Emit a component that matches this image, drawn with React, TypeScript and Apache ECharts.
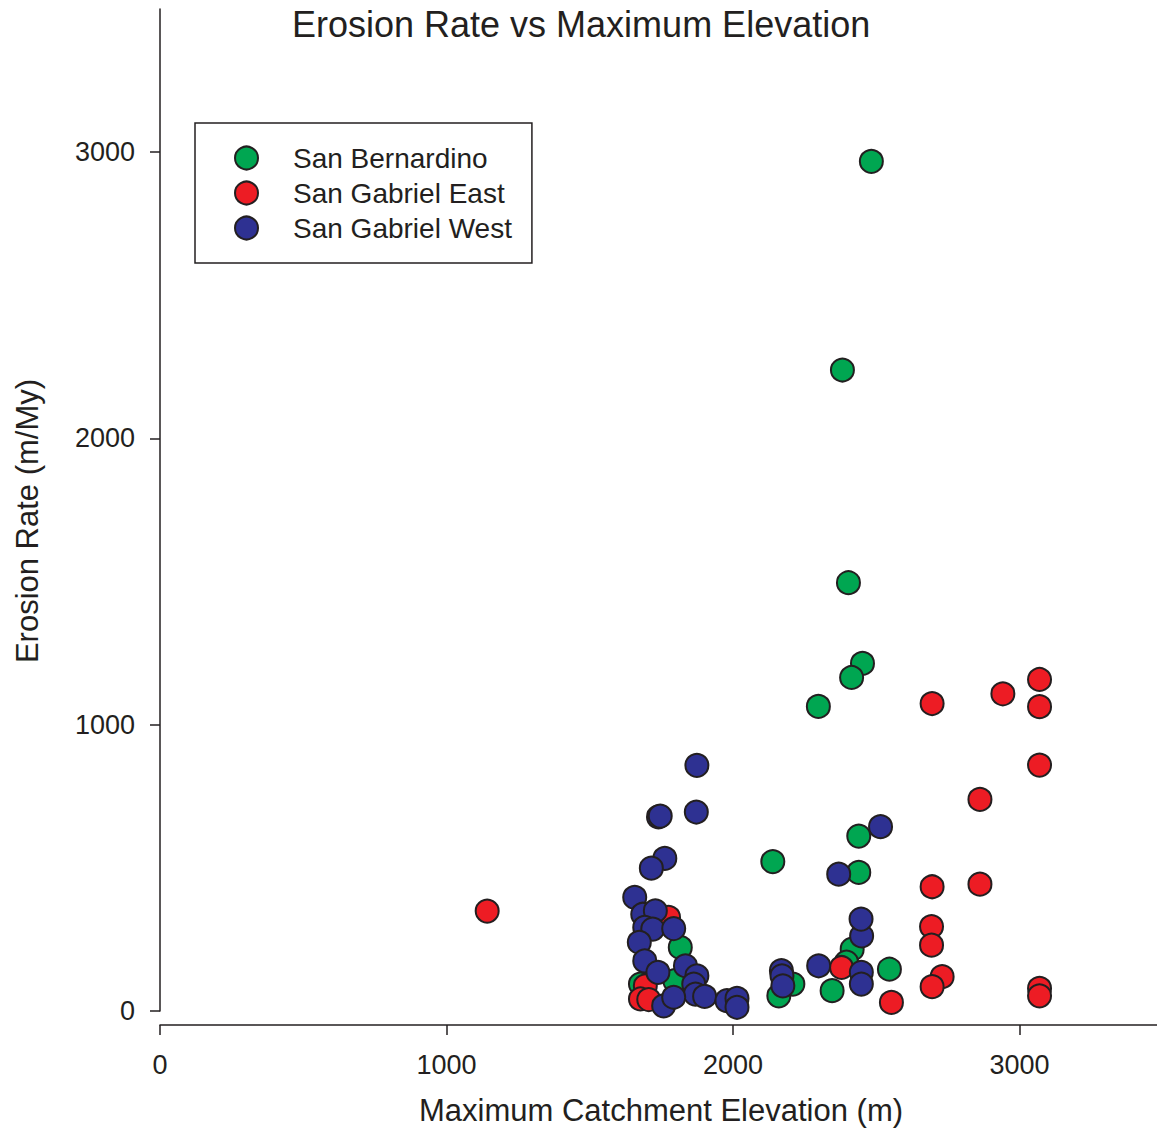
import React, { useEffect, useRef } from "react";
import * as echarts from "echarts";

const TITLE = "Erosion Rate vs Maximum Elevation";
const X_NAME = "Maximum Catchment Elevation (m)";
const Y_NAME = "Erosion Rate (m/My)";
const SERIES_NAMES = ["San Bernardino", "San Gabriel East", "San Gabriel West"];
const X_TICKS = [0, 1000, 2000, 3000];
const Y_TICKS = [0, 1000, 2000, 3000];

// San Bernardino
const sbElev = [2483, 2382, 2403, 2452, 2414, 2298, 2439, 2439, 2139, 1816, 1677, 1797, 2209, 2160, 2416, 2396, 2346, 2546];
const sbRate = [2968, 2239, 1496, 1214, 1165, 1064, 611, 484, 522, 222, 94, 106, 94, 53, 216, 171, 71, 146];

// San Gabriel East
const sgeElev = [1142, 1775, 1694, 1677, 1706, 2379, 2553, 2695, 2942, 3070, 3070, 3070, 2862, 2695, 2862, 2693, 2693, 2730, 2695, 3070, 3070];
const sgeRate = [349, 327, 88, 42, 40, 152, 30, 1074, 1108, 1158, 1063, 859, 739, 434, 443, 295, 230, 120, 85, 79, 53];

// San Gabriel West
const sgwElev = [1874, 1872, 1740, 1746, 1762, 1715, 1657, 1685, 1729, 1692, 1720, 1793, 1673, 1692, 1834, 1738, 1874, 1863, 1869, 1901, 1758, 1793, 1979, 2014, 2014, 2169, 2171, 2174, 2299, 2449, 2447, 2369, 2515, 2448, 2448];
const sgwRate = [858, 695, 678, 681, 533, 499, 397, 338, 350, 292, 286, 288, 240, 175, 158, 135, 123, 94, 59, 51, 18, 48, 36, 44, 13, 141, 123, 88, 158, 262, 321, 478, 644, 135, 94];

const COLORS = ["#00a651", "#ed1c24", "#2e3192"];
const INK = "#231f20";
const FONT = "'Liberation Sans', Arial, Helvetica, sans-serif";

const zip = (xs: number[], ys: number[]) => xs.map((x, i) => [x, ys[i]]);
const plain = (v: number) => String(v);

export default function App() {
  const ref = useRef<HTMLDivElement>(null);
  useEffect(() => {
    if (!ref.current) return;
    const chart = echarts.init(ref.current, undefined, { renderer: "svg" });
    const datasets = [zip(sbElev, sbRate), zip(sgeElev, sgeRate), zip(sgwElev, sgwRate)];
    chart.setOption({
      animation: false,
      backgroundColor: "#ffffff",
      textStyle: { fontFamily: FONT, color: INK },
      title: {
        text: TITLE,
        left: 292,
        top: 0,
        padding: [6, 0, 0, 0],
        textStyle: { fontSize: 36, fontWeight: "normal", color: INK, fontFamily: FONT },
      },
      legend: {
        orient: "vertical",
        left: 195,
        top: 123,
        padding: [21, 20, 21, 39],
        itemWidth: 23,
        itemHeight: 23,
        itemGap: 7,
        borderColor: INK,
        borderWidth: 1.5,
        icon: "circle",
        data: SERIES_NAMES,
        textStyle: { fontSize: 28, color: INK, fontFamily: FONT, padding: [0, 0, 0, 30] },
      },
      grid: { left: 160, top: 9, right: 0, bottom: 119, containLabel: false },
      xAxis: {
        type: "value",
        min: 0,
        max: 3480,
        interval: 1000,
        offset: 14,
        name: X_NAME,
        nameLocation: "middle",
        nameGap: 70,
        nameTextStyle: { fontSize: 31, color: INK, fontFamily: FONT, padding: [0, 0, 0, 5] },
        axisLine: { show: true, onZero: false, lineStyle: { color: INK, width: 1.5 } },
        axisTick: { show: true, inside: false, length: 10, lineStyle: { color: INK, width: 1.5 }, customValues: X_TICKS },
        axisLabel: { fontSize: 27, color: INK, margin: 26, fontFamily: FONT, customValues: X_TICKS, formatter: plain },
        splitLine: { show: false },
      },
      yAxis: {
        type: "value",
        min: 0,
        max: 3500,
        interval: 1000,
        name: Y_NAME,
        nameLocation: "middle",
        nameGap: 117,
        nameRotate: 90,
        nameTextStyle: { fontSize: 31, color: INK, fontFamily: FONT, padding: [0, 22, 0, 0] },
        axisLine: { show: true, onZero: false, lineStyle: { color: INK, width: 1.5 } },
        axisTick: { show: true, inside: false, length: 10, lineStyle: { color: INK, width: 1.5 }, customValues: Y_TICKS },
        axisLabel: { fontSize: 27, color: INK, margin: 25, fontFamily: FONT, customValues: Y_TICKS, formatter: plain },
        splitLine: { show: false },
      },
      series: SERIES_NAMES.map((name, i) => ({
        name,
        type: "scatter",
        data: datasets[i],
        symbol: "circle",
        symbolSize: 23,
        z: 2 + i,
        itemStyle: { color: COLORS[i], borderColor: INK, borderWidth: 2, opacity: 1 },
        emphasis: { disabled: true },
      })),
    });
    return () => chart.dispose();
  }, []);
  return (
    <div
      ref={ref}
      style={{ position: "absolute", left: 0, top: 0, width: 1157, height: 1131, overflow: "hidden" }}
    />
  );
}
